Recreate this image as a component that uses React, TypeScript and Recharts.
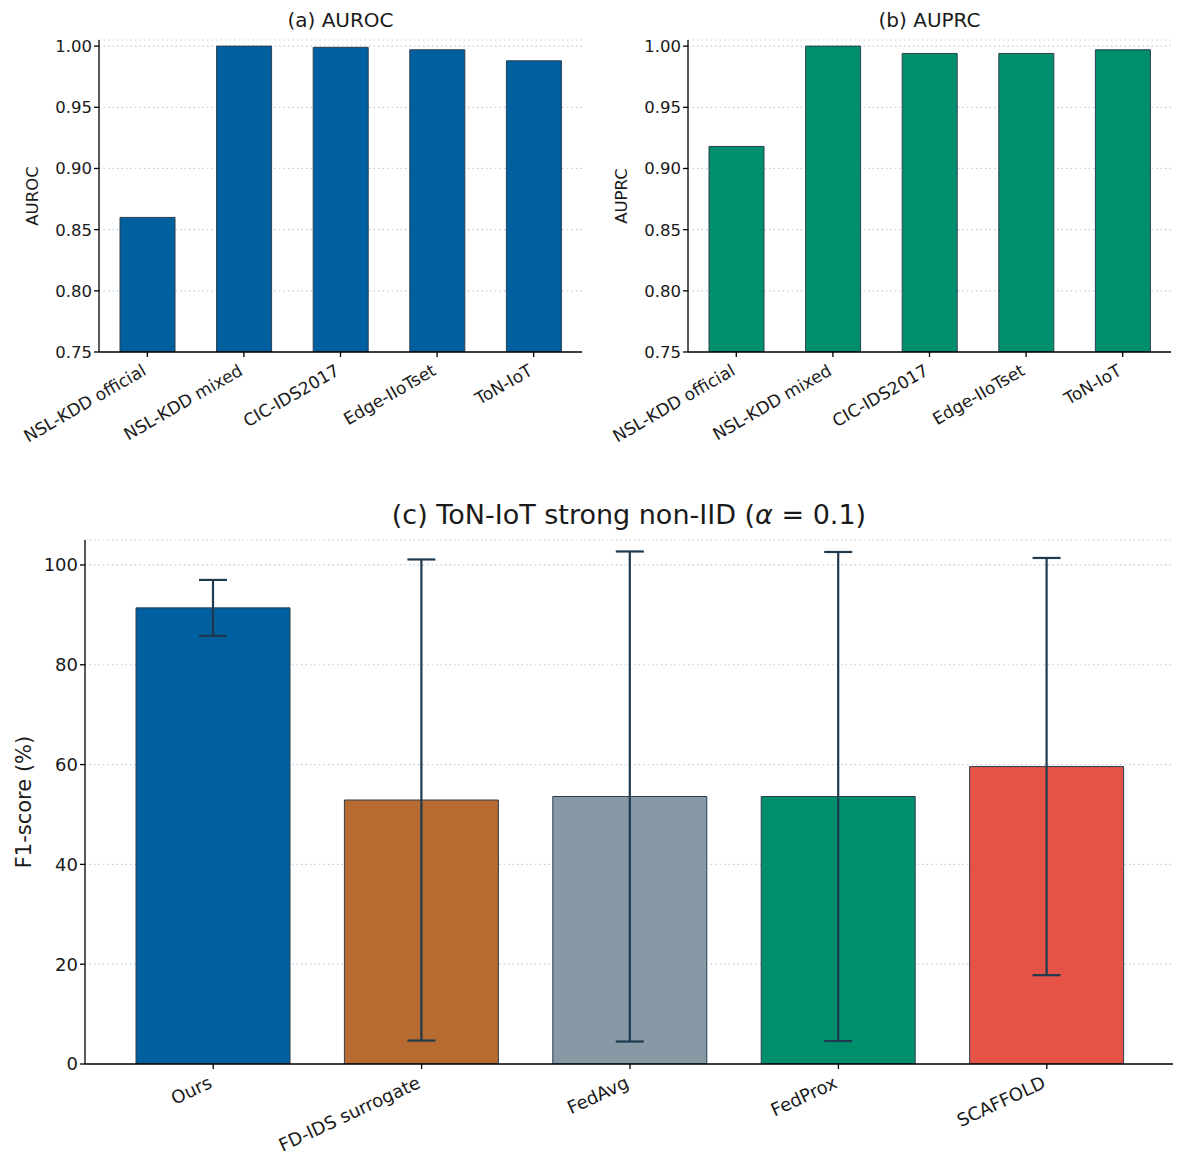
import React from 'react';
import { BarChart, Bar, XAxis, YAxis, CartesianGrid, Cell, ErrorBar } from 'recharts';

const datasets = ['NSL-KDD official', 'NSL-KDD mixed', 'CIC-IDS2017', 'Edge-IIoTset', 'ToN-IoT'];
const aurocValues = [0.860, 1.000, 0.999, 0.997, 0.988];
const auprcValues = [0.918, 1.000, 0.994, 0.994, 0.997];
const topTicks = [0.75, 0.8, 0.85, 0.9, 0.95, 1.0];

const methods = ['Ours', 'FD-IDS surrogate', 'FedAvg', 'FedProx', 'SCAFFOLD'];
const f1Mean = [91.4, 52.9, 53.6, 53.6, 59.6];
const f1Std = [5.6, 48.2, 49.1, 49.0, 41.8];
const methodColors = ['#005f9f', '#b86b30', '#8899a6', '#008f6d', '#e55347'];
const f1Ticks = [0, 20, 40, 60, 80, 100];

const FONT = '"DejaVu Sans", sans-serif';
const GRID = '#b9cfe0';
const EDGE = '#2c3e50';

const aurocData = datasets.map((name, i) => ({ name, value: aurocValues[i] }));
const auprcData = datasets.map((name, i) => ({ name, value: auprcValues[i] }));
const f1Data = methods.map((name, i) => ({ name, value: f1Mean[i], err: f1Std[i] }));

function RotatedTick(props: any) {
  const { x, y, payload, angle, fontSize, dx, dy } = props;
  return (
    <g transform={`translate(${x + dx},${y + dy})`}>
      <text
        transform={`rotate(${-angle})`}
        textAnchor="end"
        fontSize={fontSize}
        fontFamily={FONT}
        fill="#1a1a1a"
      >
        {payload.value}
      </text>
    </g>
  );
}

function TopPanel({ data, color, title, ylabel, left }: { data: any[]; color: string; title: string; ylabel: string; left: number }) {
  return (
    <div style={{ position: 'absolute', left, top: 0, width: 595, height: 460 }}>
      <div style={{ position: 'absolute', left: 99, width: 483, top: 8, textAlign: 'center', fontSize: 20, fontFamily: FONT, color: '#1a1a1a', lineHeight: '24px' }}>
        {title}
      </div>
      <div
        style={{
          position: 'absolute', left: 32, top: 196, fontSize: 16.5, fontFamily: FONT, color: '#1a1a1a',
          transform: 'translate(-50%, -50%) rotate(-90deg)', whiteSpace: 'nowrap',
        }}
      >
        {ylabel}
      </div>
      <BarChart
        width={595}
        height={460}
        data={data}
        margin={{ top: 40, right: 13, bottom: 0, left: 0 }}
        barCategoryGap={21}
        style={{ position: 'absolute', left: 0, top: 0 }}
      >
        <CartesianGrid horizontal vertical={false} stroke={GRID} strokeDasharray="1.5 3" strokeWidth={1.2} />
        <XAxis
          dataKey="name"
          interval={0}
          height={108}
          tickSize={5}
          axisLine={{ stroke: '#000', strokeWidth: 1.3 }}
          tickLine={{ stroke: '#000', strokeWidth: 1.3 }}
          tick={<RotatedTick angle={30} fontSize={17} dx={0} dy={15} />}
        />
        <YAxis
          domain={[0.75, 1.005]}
          ticks={topTicks}
          allowDataOverflow
          width={99}
          tickSize={5}
          tickFormatter={(v: number) => v.toFixed(2)}
          axisLine={{ stroke: '#000', strokeWidth: 1.3 }}
          tickLine={{ stroke: '#000', strokeWidth: 1.3 }}
          tick={{ fontSize: 16.5, fontFamily: FONT, fill: '#1a1a1a' }}
        />
        <Bar dataKey="value" fill={color} stroke={EDGE} strokeWidth={1} isAnimationActive={false} />
      </BarChart>
    </div>
  );
}

export default function App() {
  return (
    <div style={{ position: 'absolute', left: 0, top: 0, width: 1188, height: 1158, background: '#fff' }}>
      <TopPanel data={aurocData} color="#005f9f" title="(a) AUROC" ylabel="AUROC" left={0} />
      <TopPanel data={auprcData} color="#008f6d" title="(b) AUPRC" ylabel="AUPRC" left={589} />

      <div style={{ position: 'absolute', left: 0, top: 490, width: 1188, height: 668 }}>
        <div style={{ position: 'absolute', left: 85, width: 1088, top: 9, textAlign: 'center', fontSize: 27, fontFamily: FONT, color: '#1a1a1a', lineHeight: '32px' }}>
          (c) ToN-IoT strong non-IID (<i>α</i> = 0.1)
        </div>
        <div
          style={{
            position: 'absolute', left: 24, top: 312, fontSize: 21, fontFamily: FONT, color: '#1a1a1a',
            transform: 'translate(-50%, -50%) rotate(-90deg)', whiteSpace: 'nowrap',
          }}
        >
          F1-score (%)
        </div>
        <BarChart
          width={1188}
          height={668}
          data={f1Data}
          margin={{ top: 50, right: 15, bottom: 0, left: 0 }}
          barCategoryGap={27}
          style={{ position: 'absolute', left: 0, top: 0 }}
        >
          <CartesianGrid horizontal vertical={false} stroke={GRID} strokeDasharray="1.5 3" strokeWidth={1.2} />
          <XAxis
            dataKey="name"
            interval={0}
            height={94}
            tickSize={5}
            padding={{ left: 24, right: 22 }}
            axisLine={{ stroke: '#000', strokeWidth: 1.3 }}
            tickLine={{ stroke: '#000', strokeWidth: 1.3 }}
            tick={<RotatedTick angle={25} fontSize={18} dx={0} dy={16} />}
          />
          <YAxis
            domain={[0, 105]}
            ticks={f1Ticks}
            allowDataOverflow
            width={85}
            tickSize={5}
            axisLine={{ stroke: '#000', strokeWidth: 1.3 }}
            tickLine={{ stroke: '#000', strokeWidth: 1.3 }}
            tick={{ fontSize: 18, fontFamily: FONT, fill: '#1a1a1a' }}
          />
          <Bar dataKey="value" stroke={EDGE} strokeWidth={1} isAnimationActive={false}>
            {f1Data.map((d, i) => (
              <Cell key={d.name} fill={methodColors[i]} />
            ))}
            <ErrorBar dataKey="err" width={14} stroke="#1f3a4f" strokeWidth={2.2} />
          </Bar>
        </BarChart>
      </div>
    </div>
  );
}
